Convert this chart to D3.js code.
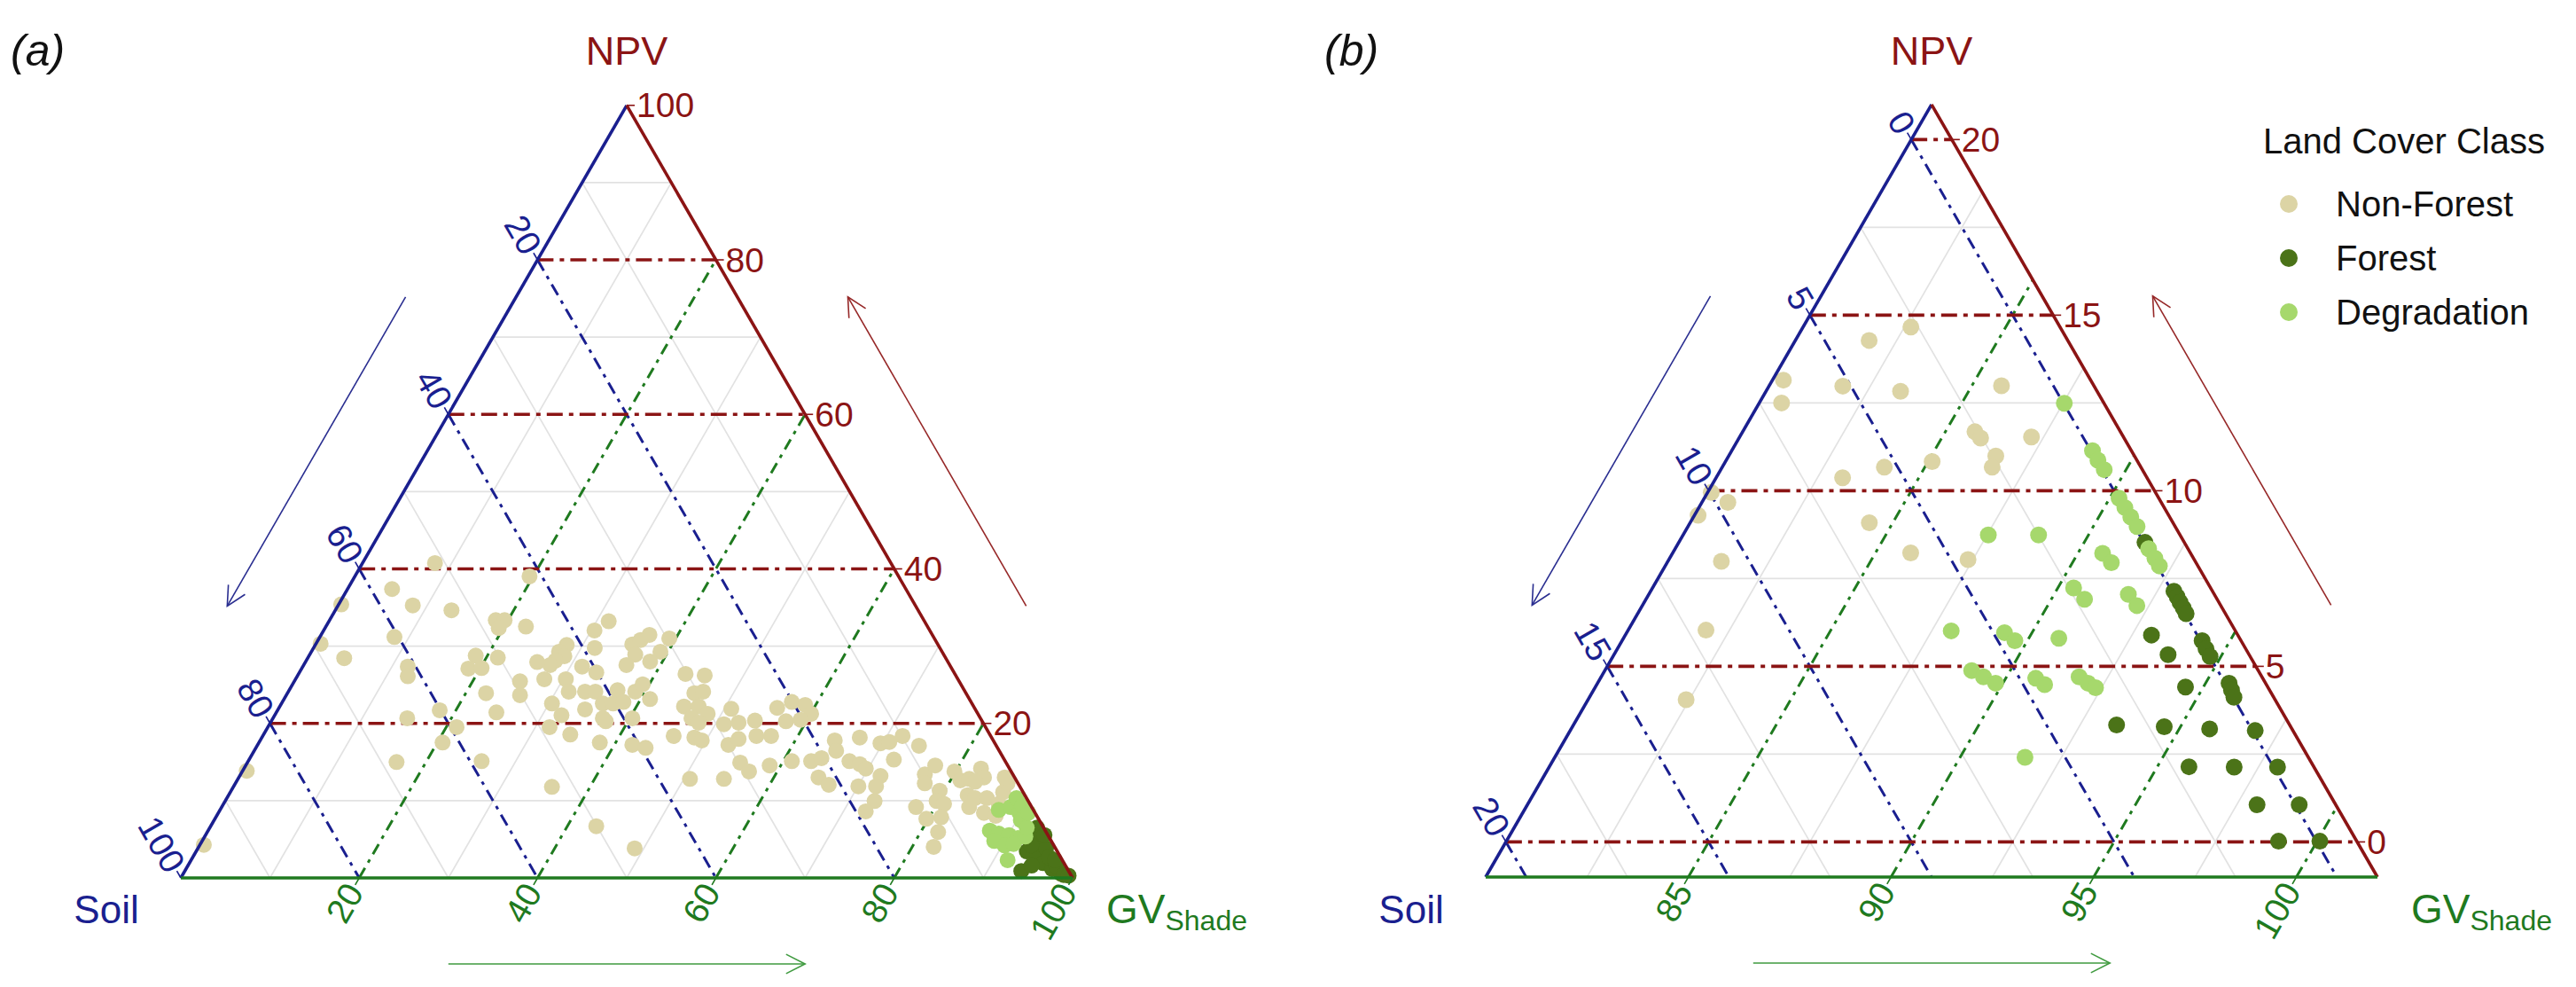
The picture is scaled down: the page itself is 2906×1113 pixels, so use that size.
<!DOCTYPE html>
<html><head><meta charset="utf-8">
<script src="https://cdn.jsdelivr.net/npm/d3@7/dist/d3.min.js"></script>
<style>body{margin:0;background:#fff}text{font-family:"Liberation Sans",Arial,sans-serif}</style>
</head><body><svg id="c" width="2906" height="1113"></svg>
<script>
// ---------------- DATA (each point = [NPV %, GV_Shade %]; Soil = 100 - NPV - GV) ----------------
const classes = ["Non-Forest", "Forest", "Degradation"];

// Panel (a): full ternary 0-100
const aNonForest = [
 [40.76,8.12],[37.39,4.99],[35.28,8.37],[34.64,13.03],[35.4,0.29],[31.19,8.36],[30.31,0.52],[28.44,4.1],
 [27.36,11.77],[26.1,12.4],[28.78,18.68],[27.1,18.69],[20.67,15.05],[21.7,18.18],[19.52,21.16],[17.53,20.59],
 [15.0,16.69],[13.86,0.46],[4.28,0.44],
 [39.04,19.58],[33.37,18.63],[33.37,19.62],[32.34,19.48],[32.53,22.43],[33.22,31.37],[32.03,30.37],[29.77,31.53],
 [30.16,28.19],[29.28,27.77],[28.7,28.66],[28.13,27.95],[27.55,27.64],[27.94,25.99],[28.51,21.29],[27.17,20.14],
 [27.36,31.32],[26.6,33.29],[30.23,35.51],[30.8,36.16],[31.46,36.82],[28.9,36.51],[27.55,36.19],[31.0,39.27],
 [29.28,39.14],[28.01,38.62],[25.45,25.31],[23.65,26.21],[23.91,22.27],[25.72,27.9],[25.72,30.31],[24.11,31.44],
 [22.58,30.33],[21.05,32.16],[19.52,31.59],[21.43,24.67],[24.11,33.27],[24.11,34.43],[21.81,34.42],[22.58,36.03],
 [20.67,36.99],[20.28,37.51],[24.3,36.82],[22.58,37.19],[22.77,38.25],[24.11,38.9],[25.06,39.26],[23.15,41.04],
 [20.67,40.3],[18.56,34.39],[17.53,38.22],[17.22,42.02],[16.84,43.7],[15.12,26.17],[11.79,35.72],[6.69,43.24],
 [3.82,48.98],
 [26.41,43.39],[26.21,45.64],[23.91,45.63],[24.11,46.52],[22.19,45.33],[22.19,46.98],[21.24,48.46],[20.67,46.93],
 [20.09,48.03],[18.17,48.5],[17.8,49.52],[18.37,46.08],[21.89,50.78],[19.9,50.95],[20.09,52.5],[20.36,54.2],
 [17.22,52.79],[17.99,53.55],[18.37,55.36],[18.37,57.01],[22.01,55.87],[22.77,57.13],[20.28,57.72],[14.93,55.26],
 [13.78,56.83],[14.55,58.76],[15.12,60.96],[12.82,50.68],[12.82,54.49],
 [22.39,58.82],[21.24,60.06],[20.47,59.27],[17.8,64.43],[16.45,65.26],[18.17,67.05],[17.42,69.75],[17.6,70.65],
 [18.37,71.75],[17.11,74.22],[15.12,63.12],[15.5,64.09],[13.01,65.0],[12.06,66.63],[15.12,67.42],[14.73,68.77],
 [14.16,69.73],[15.31,72.3],[13.2,71.86],[11.86,72.03],[11.86,70.05],[9.95,72.82],[8.61,72.5],[13.4,76.73],
 [14.55,77.32],[12.25,77.3],[11.29,79.45],[9.95,79.78],[9.57,80.8],[9.18,77.85],[7.66,79.77],[7.85,81.34],
 [5.94,81.95],[4.02,82.41],[13.78,79.86],[12.63,81.1],[12.82,82.0],[14.16,82.65],[13.01,83.56],[12.44,82.85],
 [10.71,82.88],[10.33,83.9],[10.33,85.22],[9.18,83.81],[8.42,85.85],[8.04,87.36],[9.57,86.93],[11.1,86.66],
 [12.25,86.58],[13.01,85.88]
];
const aForest = [
 [6.51,92.76],[4.97,93.7],[3.44,93.14],[3.06,94.49],[1.92,95.73],[1.15,97.13],[0.57,98.4],[3.82,95.11],
 [5.55,94.07],[2.68,96.01],[1.53,97.41],[0.38,98.81],[4.21,93.25],[2.3,96.86],[0.9,93.8],[1.6,94.6],[0.3,99.4]
];
const aDegradation = [
 [8.8,87.32],[9.18,88.45],[8.42,89.83],[10.33,88.54],[9.38,89.68],[6.12,87.66],[5.74,88.85],[5.55,90.09],
 [5.17,91.29],[5.36,92.02],[4.78,88.83],[4.21,90.27],[4.4,91.17],[7.46,90.47],[6.51,91.6],[2.3,91.56],[8.42,90.82]
];

// Panel (b): zoomed ternary (NPV -1..21, Soil -1..21, GV 80..102)
const bNonForest = [
 [14.66,82.66],[14.28,81.82],[13.15,80.27],[12.98,81.82],[12.83,83.32],[12.5,80.55],[10.37,83.12],[10.67,84.0],
 [10.83,85.1],[9.95,80.09],[9.67,80.64],[9.3,80.09],[9.09,84.42],[8.23,85.87],[7.99,81.32],[6.03,81.92],[4.05,82.42],
 [12.99,85.73],[11.68,85.73],[11.5,85.96],[11.53,87.2],[10.99,86.59],[10.67,86.66],[8.04,87.38]
];
const bForest = [
 [0.02,99.05],[0.02,100.07],[1.06,98.0],[1.06,99.04],[2.14,95.78],[2.13,96.9],[2.13,97.97],[3.33,93.4],
 [3.28,94.6],[3.22,95.75],[3.17,96.9],[4.41,94.56],[4.52,95.58],[4.32,95.74],[4.12,95.9],[5.89,92.98],[5.33,93.67],
 [5.73,94.31],[5.5,94.52],[5.28,94.73],[7.14,92.91],[6.98,93.07],[6.82,93.22],[6.66,93.38],[6.5,93.53],[8.53,91.5]
];
const bDegradation = [
 [12.49,87.53],[11.14,88.9],[10.87,89.17],[10.6,89.46],[9.79,90.23],[9.52,90.51],[9.25,90.79],[8.98,91.08],
 [8.35,91.68],[8.08,91.97],[7.86,92.19],[8.74,87.53],[8.74,88.77],[8.22,90.61],[7.95,90.96],[7.23,90.39],
 [6.91,90.82],[7.05,91.83],[6.73,92.2],[6.01,87.98],[5.96,89.32],[5.73,89.69],[5.8,90.74],[4.88,89.05],
 [4.7,89.43],[4.52,89.82],[4.66,90.74],[4.48,91.05],[4.7,91.79],[4.52,92.1],[4.39,92.35],[2.41,91.6]
];

// Tick values
const aNpvTicks = [20,40,60,80,100], aSoilTicks = [20,40,60,80,100], aGvTicks = [20,40,60,80,100];
const aNpvMinor = [10,30,50,70,90], aSoilMinor = [10,30,50,70,90], aGvMinor = [10,30,50,70,90];
const bNpvTicks = [0,5,10,15,20], bSoilTicks = [0,5,10,15,20], bGvTicks = [85,90,95,100];
const bNpvMinor = [2.5,7.5,12.5,17.5], bSoilMinor = [2.5,7.5,12.5,17.5], bGvMinor = [82.5,87.5,92.5,97.5];

// ---------------- STYLE ----------------
const classColors = {"Non-Forest":"#DCD4A5","Forest":"#4B7318","Degradation":"#A6D86C"};
const cNpv = "#8B1414", cSoil = "#1A1F8F", cGv = "#1F7A1F";

const panels = [
 {tag:"(a)", tagX:12, x0:204, y0:990, L:1006, nMin:0, sMin:0, gMin:0, span:100, r:9,
  data:[aNonForest,aForest,aDegradation], nT:aNpvTicks, sT:aSoilTicks, gT:aGvTicks,
  nM:aNpvMinor, sM:aSoilMinor, gM:aGvMinor},
 {tag:"(b)", tagX:1494, x0:1676, y0:989, L:1006, nMin:-1, sMin:-1, gMin:80, span:22, r:9.5,
  data:[bNonForest,bForest,bDegradation], nT:bNpvTicks, sT:bSoilTicks, gT:bGvTicks,
  nM:bNpvMinor, sM:bSoilMinor, gM:bGvMinor}
];

const svg = d3.select("#c");
svg.append("rect").attr("width",2906).attr("height",1113).attr("fill","#fff");
const S3 = Math.sqrt(3)/2;

function arrow(g, p1, p2, color){
  g.append("line").attr("x1",p1[0]).attr("y1",p1[1]).attr("x2",p2[0]).attr("y2",p2[1])
   .attr("stroke",color).attr("stroke-width",1.6);
  const ang = Math.atan2(p1[1]-p2[1], p1[0]-p2[0]);
  const len = 24, sp = 0.47;
  const a1 = [p2[0]+len*Math.cos(ang+sp), p2[1]+len*Math.sin(ang+sp)];
  const a2 = [p2[0]+len*Math.cos(ang-sp), p2[1]+len*Math.sin(ang-sp)];
  g.append("polyline").attr("points",[a1,p2,a2].map(p=>p.join(",")).join(" "))
   .attr("fill","none").attr("stroke",color).attr("stroke-width",1.6);
}

panels.forEach(P => {
  const g = svg.append("g");
  const H = P.L*S3;
  const xs = d3.scaleLinear().domain([0,1]).range([P.x0, P.x0+P.L]);
  const ys = d3.scaleLinear().domain([0,1]).range([P.y0, P.y0-H]);
  const proj = (n, gv) => { const nf=(n-P.nMin)/P.span, gf=(gv-P.gMin)/P.span; return [xs(gf+nf/2), ys(nf)]; };
  const vSoil = proj(P.nMin, P.gMin);                    // Soil vertex
  const vGv = proj(P.nMin, 100-P.nMin-P.sMin);           // GV vertex
  const vNpv = proj(100-P.gMin-P.sMin, P.gMin);          // NPV apex

  const npvLine = v => [proj(v, P.gMin), proj(v, 100-v-P.sMin)];
  const gvLine  = v => [proj(P.nMin, v), proj(100-v-P.sMin, v)];
  const soilLine= v => [proj(100-v-P.gMin, P.gMin), proj(P.nMin, 100-v-P.nMin)];
  const drawLine = (pts, stroke, w, dash) => {
    g.append("line").attr("x1",pts[0][0]).attr("y1",pts[0][1]).attr("x2",pts[1][0]).attr("y2",pts[1][1])
      .attr("stroke",stroke).attr("stroke-width",w).attr("stroke-dasharray",dash||null);
  };
  // minor grid
  P.nM.forEach(v=>drawLine(npvLine(v),"#E2E2E2",1.7));
  P.gM.forEach(v=>drawLine(gvLine(v),"#E2E2E2",1.7));
  P.sM.forEach(v=>drawLine(soilLine(v),"#E2E2E2",1.7));
  // major grid
  P.gT.forEach(v=>drawLine(gvLine(v),cGv,3,"13,7,4,7"));
  P.sT.forEach(v=>drawLine(soilLine(v),cSoil,3,"14,7,4,7"));
  P.nT.forEach(v=>drawLine(npvLine(v),cNpv,3.6,"18,7,5,7"));

  // points
  classes.forEach((cls, ci) => {
    g.append("g").selectAll("circle").data(P.data[ci]).join("circle")
      .attr("cx", d=>proj(d[0],d[1])[0]).attr("cy", d=>proj(d[0],d[1])[1])
      .attr("r", P.r).attr("fill", classColors[cls]);
  });

  // edges
  drawLine([vSoil,vNpv], cSoil, 3.6);
  drawLine([vNpv,vGv], cNpv, 3.6);
  drawLine([vSoil,vGv], cGv, 3.6);

  // ticks + labels
  const fs = 39;
  P.nT.forEach(v => {
    const p = proj(v, 100-v-P.sMin);
    drawLine([p,[p[0]+9,p[1]]], cNpv, 1.6);
    g.append("text").attr("x",p[0]+11).attr("y",p[1]).attr("dominant-baseline","central")
      .attr("font-size",fs).attr("fill",cNpv).text(v);
  });
  P.sT.forEach(v => {
    const p = proj(100-v-P.gMin, P.gMin);
    drawLine([p,[p[0]-0.5*9,p[1]-S3*9]], cSoil, 1.6);
    const ax = p[0]-0.5*11, ay = p[1]-S3*11;
    g.append("text").attr("transform",`translate(${ax},${ay}) rotate(60)`).attr("text-anchor","end")
      .attr("dominant-baseline","central").attr("font-size",fs).attr("fill",cSoil).text(v);
  });
  P.gT.forEach(v => {
    const p = proj(P.nMin, v);
    drawLine([p,[p[0]-0.5*9,p[1]+S3*9]], cGv, 1.6);
    const ax = p[0]-0.5*11, ay = p[1]+S3*11;
    g.append("text").attr("transform",`translate(${ax},${ay}) rotate(-60)`).attr("text-anchor","end")
      .attr("dominant-baseline","central").attr("font-size",fs).attr("fill",cGv).text(v);
  });

  // axis titles
  g.append("text").attr("x",vNpv[0]).attr("y",73).attr("text-anchor","middle").attr("font-size",45)
    .attr("fill",cNpv).text("NPV");
  g.append("text").attr("x",vSoil[0]-84).attr("y",1041).attr("text-anchor","middle").attr("font-size",44)
    .attr("fill",cSoil).text("Soil");
  const gt = g.append("text").attr("x",vGv[0]+38).attr("y",1041).attr("font-size",46).attr("fill",cGv);
  gt.append("tspan").text("GV");
  gt.append("tspan").attr("font-size",32).attr("dy",8).text("Shade");
  // panel tag
  g.append("text").attr("x",P.tagX).attr("y",74).attr("font-size",50).attr("font-style","italic")
    .attr("fill","#111").text(P.tag);

  // direction arrows
  const along = (a,b,t,off,nx,ny) => [a[0]+t*(b[0]-a[0])+off*nx, a[1]+t*(b[1]-a[1])+off*ny];
  arrow(g, along(vSoil,vNpv,0.69,108,-S3,-0.5), along(vSoil,vNpv,0.29,108,-S3,-0.5), "#2A2E90");
  arrow(g, along(vGv,vNpv,0.29,108,S3,-0.5), along(vGv,vNpv,0.69,108,S3,-0.5), "#962828");
  arrow(g, along(vSoil,vGv,0.30,97,0,1), along(vSoil,vGv,0.70,97,0,1), "#3E9A3E");
});

// legend
const lg = svg.append("g");
lg.append("text").attr("x",2553).attr("y",173).attr("font-size",40).attr("fill","#111").text("Land Cover Class");
classes.forEach((cls,i) => {
  const cy = 230 + i*61;
  lg.append("circle").attr("cx",2582).attr("cy",cy).attr("r",10).attr("fill",classColors[cls]);
  lg.append("text").attr("x",2635).attr("y",cy).attr("dominant-baseline","central").attr("font-size",40)
    .attr("fill","#111").text(cls);
});
</script>
</body></html>
